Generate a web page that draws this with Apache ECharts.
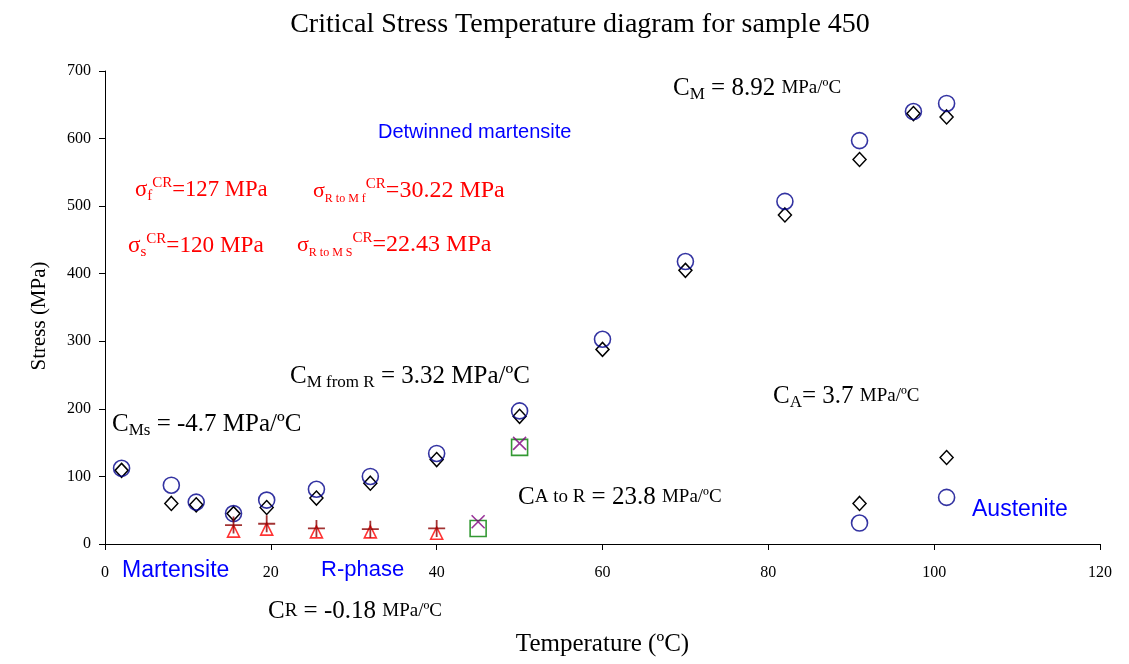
<!DOCTYPE html>
<html>
<head>
<meta charset="utf-8">
<script src="https://cdn.jsdelivr.net/npm/echarts@6/dist/echarts.min.js"></script>
<style>
  html, body { margin: 0; padding: 0; background: #fff; }
  #chart { width: 1129px; height: 664px; }
</style>
</head>
<body>
<div id="chart"></div>
<script>
// Temperature (ºC) / critical stress (MPa) measurements for sample 450
const circleTemps   = [2, 8, 11, 15.5, 19.5, 25.5, 32, 40, 50, 60, 70, 82, 91, 97.5, 101.5, 91, 101.5];
const circleStress  = [112, 87, 62, 45, 65, 81, 100, 134, 197, 303, 418, 507, 597, 640, 652, 31, 69];
const diamondTemps  = [2, 8, 11, 15.5, 19.5, 25.5, 32, 40, 50, 60, 70, 82, 91, 97.5, 101.5, 91, 101.5];
const diamondStress = [109, 60, 58, 45, 54, 68, 90, 125, 189, 288, 405, 487, 569, 637, 632, 60, 128];
const triangleTemps  = [15.5, 19.5, 25.5, 32, 40];
const triangleStress = [19, 22, 18, 18, 16];
const plusTemps  = [15.5, 19.5, 25.5, 32, 40];
const plusStress = [28, 30, 23, 22, 23];
const squareTemps  = [45, 50];
const squareStress = [23, 143];
const crossTemps  = [45, 50];
const crossStress = [33, 149];

const xTicks = [0, 20, 40, 60, 80, 100, 120];
const yTicks = [0, 100, 200, 300, 400, 500, 600, 700];

const SERIF = '"Liberation Serif", "Times New Roman", serif';
const SANS = '"Liberation Sans", Arial, sans-serif';

function pairs(xs, ys) { return xs.map((x, i) => [x, ys[i]]); }

function tok(size, lh, color, extra) {
  return Object.assign({ fontFamily: SERIF, fontSize: size, lineHeight: lh, color, fontWeight: 'normal' }, extra || {});
}
// rich-text styles for the annotation formulas
function blackRich() {
  return {
    c: tok(25, 30, '#000'),
    s: tok(17, 20, '#000', { verticalAlign: 'bottom' }),
    u: tok(19, 30, '#000')
  };
}
function redRich(main) {
  return {
    c: tok(main, 28, '#ff0000'),
    big: tok(24, 28, '#ff0000'),
    s: tok(15, 16, '#ff0000', { verticalAlign: 'bottom' }),
    t: tok(12, 22, '#ff0000', { verticalAlign: 'bottom' }),
    p: tok(15, 8, '#ff0000', { verticalAlign: 'top' })
  };
}
function note(text, left, top, rich) {
  return { text, left, top, padding: 0, textStyle: { fontWeight: 'normal', rich } };
}
function phase(text, left, top, size) {
  return { text, left, top, padding: 0,
    textStyle: { fontFamily: SANS, fontSize: size, fontWeight: 'normal', color: '#0000ff' } };
}

const titles = [
  { text: 'Critical Stress Temperature diagram for sample 450', left: 580, top: 11, padding: 0,
    textAlign: 'center',
    textStyle: { fontFamily: SERIF, fontSize: 28, fontWeight: 'normal', color: '#000' } },
  note('{c|C}{s|M}{c| = 8.92 }{u|MPa/ºC}', 673, 73, blackRich()),
  note('{c|C}{s|Ms}{c| = -4.7 MPa/ºC}', 112, 409, blackRich()),
  note('{c|C}{s|M from R}{c| = 3.32 MPa/ºC}', 290, 361, blackRich()),
  note('{c|C}{s|A}{c|= 3.7 }{u|MPa/ºC}', 773, 381, blackRich()),
  note('{c|C}{u|A to R}{c| = 23.8 }{u|MPa/ºC}', 518, 482, blackRich()),
  note('{c|C}{u|R}{c| = -0.18 }{u|MPa/ºC}', 268, 596, blackRich()),
  note('{c|σ}{s|f}{p|CR}{c|=127 MPa}', 135, 176, redRich(22.7)),
  note('{c|σ}{t|R to M f}{p|CR}{big|=30.22 MPa}', 313, 177, redRich(22)),
  note('{c|σ}{s|s}{p|CR}{c|=120 MPa}', 128, 232, redRich(23.2)),
  note('{c|σ}{t|R to M S}{p|CR}{big|=22.43 MPa}', 297, 231, redRich(22)),
  phase('Detwinned martensite', 378, 122, 20),
  phase('Martensite', 122, 559, 23),
  phase('R-phase', 321, 559, 22),
  phase('Austenite', 972, 498, 23)
];

const chart = echarts.init(document.getElementById('chart'), null, { renderer: 'canvas' });

chart.setOption({
  backgroundColor: '#ffffff',
  animation: false,
  title: titles,
  grid: { left: 105, right: 29, top: 71, bottom: 120, containLabel: false },
  // vertical axis title, set a little below the axis midpoint
  graphic: [{
    type: 'text', x: 39, y: 316, rotation: Math.PI / 2,
    style: { text: 'Stress (MPa)', font: '21px ' + SERIF, fill: '#000',
      textAlign: 'center', textVerticalAlign: 'middle' }
  }],
  xAxis: {
    type: 'value', min: xTicks[0], max: xTicks[xTicks.length - 1], interval: 20,
    name: 'Temperature (ºC)', nameLocation: 'middle', nameGap: 88,
    nameTextStyle: { fontFamily: SERIF, fontSize: 25, color: '#000' },
    axisLine: { onZero: false, lineStyle: { color: '#000', width: 1 } },
    axisTick: { inside: false, length: 6, lineStyle: { color: '#000' } },
    axisLabel: { margin: 21, fontFamily: SERIF, fontSize: 16, color: '#000' },
    splitLine: { show: false }
  },
  yAxis: {
    type: 'value', min: yTicks[0], max: yTicks[yTicks.length - 1], interval: 100,
    axisLine: { show: true, onZero: false, lineStyle: { color: '#000', width: 1 } },
    axisTick: { show: true, inside: false, length: 6, lineStyle: { color: '#000' } },
    axisLabel: { margin: 14, fontFamily: SERIF, fontSize: 16, color: '#000' },
    splitLine: { show: false }
  },
  series: [
    {
      name: 'diamond', type: 'scatter', data: pairs(diamondTemps, diamondStress),
      symbol: 'diamond', symbolSize: [13, 14],
      itemStyle: { color: '#fff', opacity: 1, borderColor: '#000', borderWidth: 1.5 }, z: 3
    },
    {
      name: 'circle', type: 'scatter', data: pairs(circleTemps, circleStress),
      symbol: 'circle', symbolSize: 16,
      itemStyle: { color: 'rgba(0,0,0,0)', borderColor: '#00008b', borderWidth: 1.6 }, z: 4
    },
    {
      name: 'triangle', type: 'scatter', data: pairs(triangleTemps, triangleStress),
      symbol: 'triangle', symbolSize: [12, 12],
      itemStyle: { color: 'rgba(0,0,0,0)', borderColor: '#ff0000', borderWidth: 1.6 }, z: 3
    },
    {
      name: 'plus', type: 'scatter', data: pairs(plusTemps, plusStress),
      symbol: 'path://M0,8 L16,8 M8,0 L8,16', symbolSize: [17, 17],
      itemStyle: { color: 'none', borderColor: '#8b0000', borderWidth: 1.8 }, z: 4
    },
    {
      name: 'square', type: 'scatter', data: pairs(squareTemps, squareStress),
      symbol: 'rect', symbolSize: [16, 16],
      itemStyle: { color: 'rgba(0,0,0,0)', borderColor: '#008000', borderWidth: 1.6 }, z: 3
    },
    {
      name: 'cross', type: 'scatter', data: pairs(crossTemps, crossStress),
      symbol: 'path://M0,0 L10,10 M10,0 L0,10', symbolSize: [13, 13],
      itemStyle: { color: 'none', borderColor: '#800080', borderWidth: 1.6 }, z: 4
    }
  ]
});
</script>
</body>
</html>
